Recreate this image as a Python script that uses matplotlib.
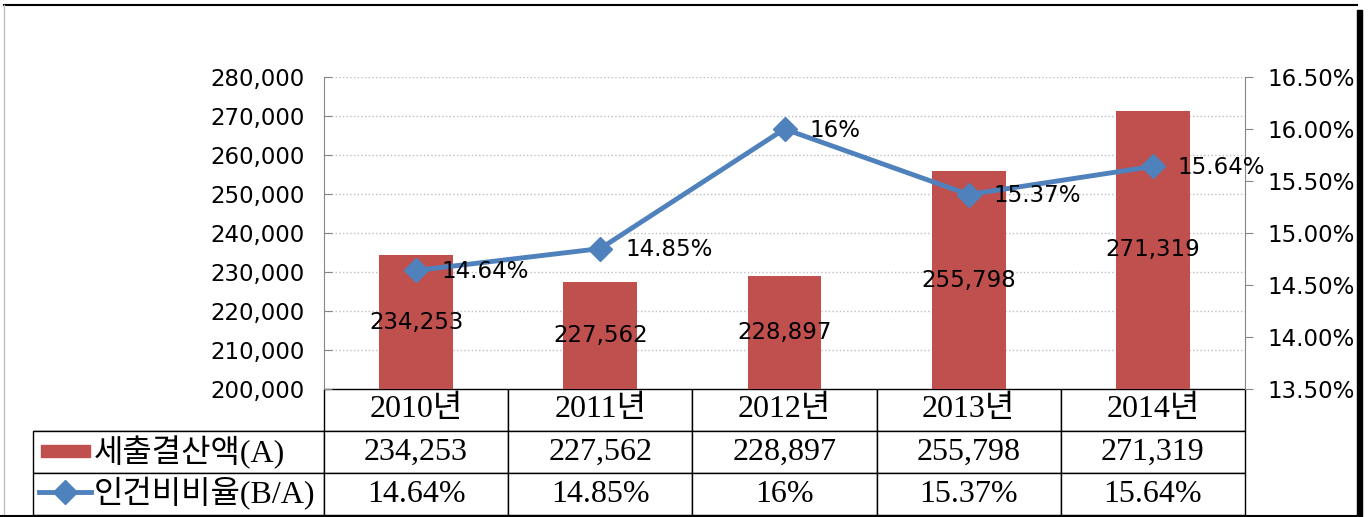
import matplotlib
matplotlib.use('Agg')
import matplotlib.pyplot as plt
from matplotlib.patches import Rectangle
from matplotlib.lines import Line2D
from matplotlib.ticker import FuncFormatter, MultipleLocator

years = ['2010년', '2011년', '2012년', '2013년', '2014년']
budget = [234253, 227562, 228897, 255798, 271319]
ratio = [14.64, 14.85, 16.0, 15.37, 15.64]
ratio_labels = ['14.64%', '14.85%', '16%', '15.37%', '15.64%']
series_names = ['세출결산액(A)', '인건비비율(B/A)']

bar_color = '#C0504D'
line_color = '#4F81BD'
axis_gray = '#868686'
serif = ['Liberation Serif', 'Noto Sans CJK KR']

W, H = 1369, 517
fig = plt.figure(figsize=(W / 100, H / 100), dpi=100)
ax = fig.add_axes([324 / W, (H - 389) / H, 921 / W, 312 / H])

# 막대 (세출결산액)
xs = list(range(len(years)))
bars = ax.bar(xs, budget, width=0.4, color=bar_color, zorder=2)
ax.bar_label(bars, labels=[f'{v:,}' for v in budget], label_type='center', fontsize=16.5)
ax.set_xlim(-0.5, len(years) - 0.5)
ax.set_ylim(200000, 280000)
ax.yaxis.set_major_locator(MultipleLocator(10000))
ax.yaxis.set_major_formatter(FuncFormatter(lambda v, p: f'{v:,.0f}'))
ax.set_xticks([])
ax.grid(axis='y', color='#BFBFBF', linestyle=':', linewidth=1, zorder=0)
ax.tick_params(axis='y', direction='in', length=6, color=axis_gray, labelsize=16.5, pad=14)
for s in ['top', 'right', 'bottom']:
    ax.spines[s].set_visible(False)
ax.spines['left'].set_color(axis_gray)

# 선 (인건비비율)
ax2 = ax.twinx()
ax2.plot(xs, ratio, color=line_color, linewidth=3.5, marker='D', markersize=12, zorder=3)
for xi, yi, lab in zip(xs, ratio, ratio_labels):
    ax2.annotate(lab, (xi, yi), xytext=(18, -1), textcoords='offset points',
                 ha='left', va='center', fontsize=16.5)
ax2.set_ylim(13.5, 16.5)
ax2.yaxis.set_major_locator(MultipleLocator(0.5))
ax2.yaxis.set_major_formatter(FuncFormatter(lambda v, p: f'{v:.2f}%'))
ax2.tick_params(axis='y', direction='out', length=6, color=axis_gray, labelsize=16.5, pad=10)
for s in ['top', 'left', 'bottom']:
    ax2.spines[s].set_visible(False)
ax2.spines['right'].set_color(axis_gray)

# 데이터 표
cell_text = [[series_names[0]] + [f'{v:,}' for v in budget],
             [series_names[1]] + ratio_labels]
col_w = [291] + [921 / 5] * 5
tot = sum(col_w)
tbl = ax.table(cellText=cell_text, colLabels=[''] + years,
               colWidths=[c / tot for c in col_w], cellLoc='center',
               bbox=[-291 / 921, -126 / 312, tot / 921, 126 / 312])
tbl.auto_set_font_size(False)
for (r, c), cell in tbl.get_celld().items():
    cell.set_edgecolor('black')
    cell.set_linewidth(1)
    t = cell.get_text()
    t.set_fontfamily(serif)
    t.set_fontsize(23)
    if c == 0:
        t.set_ha('left')
        cell.PAD = 61 / 291
tbl[0, 0].visible_edges = 'B'

# 범례 표시
def ax_x(px):
    return (px - 324) / 921

def ax_y(py):
    return (389 - py) / 312

ax.add_patch(Rectangle((ax_x(41), ax_y(457)), 49 / 921, 12 / 312, color=bar_color,
                       transform=ax.transAxes, clip_on=False))
ax.add_line(Line2D([ax_x(39), ax_x(91)], [ax_y(492)] * 2, color=line_color, linewidth=3.5,
                   transform=ax.transAxes, clip_on=False))
ax.add_line(Line2D([ax_x(65)], [ax_y(492)], color=line_color, marker='D', markersize=12,
                   transform=ax.transAxes, clip_on=False))

# 외곽 테두리
def fx(px):
    return px / W

def fy(py):
    return (H - py) / H

fig.add_artist(Line2D([fx(4), fx(1357)], [fy(5), fy(5)], color='black', linewidth=1.5))
fig.add_artist(Line2D([fx(4), fx(4)], [fy(5), fy(515)], color='#BFBFBF', linewidth=1))
fig.add_artist(Line2D([fx(0), fx(1357)], [fy(515.5), fy(515.5)], color='black', linewidth=1.5))
fig.add_artist(Rectangle((fx(1357), fy(517)), 5 / W, 507 / H, color='black',
                         transform=fig.transFigure))

fig.savefig('out.png', dpi=100)
